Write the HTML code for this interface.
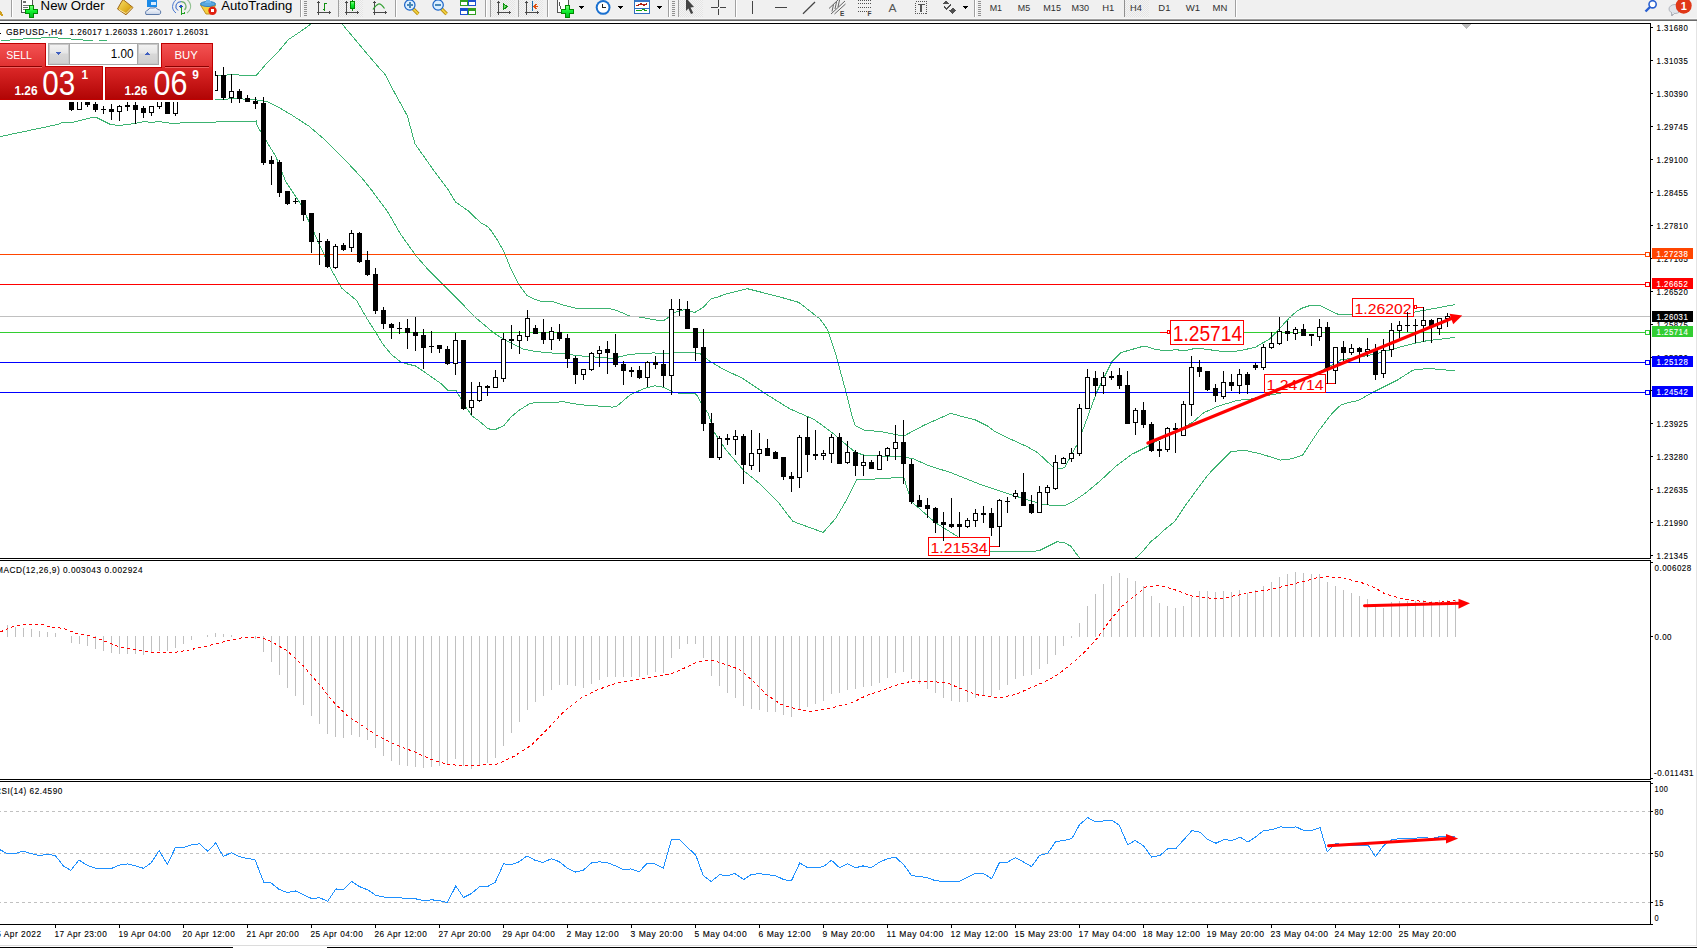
<!DOCTYPE html>
<html><head><meta charset="utf-8"><title>GBPUSD,H4</title>
<style>
html,body{margin:0;padding:0;width:1697px;height:948px;overflow:hidden;background:#fff}
svg{display:block}
text{font-family:"Liberation Sans",sans-serif;white-space:pre}
</style></head><body>
<svg width="1697" height="948" viewBox="0 0 1697 948" shape-rendering="crispEdges">
<rect x="0" y="0" width="1697" height="18" fill="#f0f0f0"/>
<rect x="0" y="18" width="1697" height="1" fill="#f7f7f7"/>
<rect x="0" y="19" width="1697" height="1" fill="#a0a0a0"/>
<rect x="0" y="20" width="1697" height="1" fill="#6a6a6a"/>
<defs><linearGradient id="gplus" x1="0" y1="0" x2="0" y2="1"><stop offset="0" stop-color="#90ff90"/><stop offset="0.5" stop-color="#10f030"/><stop offset="1" stop-color="#00c020"/></linearGradient><linearGradient id="gbook" x1="0" y1="0" x2="1" y2="1"><stop offset="0" stop-color="#f8e070"/><stop offset="0.6" stop-color="#e0b020"/><stop offset="1" stop-color="#b07010"/></linearGradient><linearGradient id="gcloud" x1="0" y1="0" x2="0" y2="1"><stop offset="0" stop-color="#ffffff"/><stop offset="1" stop-color="#c8d4e8"/></linearGradient><pattern id="chk" width="2" height="2" patternUnits="userSpaceOnUse"><rect width="2" height="2" fill="#f4f4f4"/><rect width="1" height="1" fill="#e4e4e4"/><rect x="1" y="1" width="1" height="1" fill="#e4e4e4"/></pattern></defs>
<rect x="11" y="0" width="1" height="17" fill="#a0a0a0"/>
<rect x="12" y="0" width="1" height="17" fill="#ffffff"/>
<path d="M-1,11.5 L2.8,15.8" stroke="#d0a020" stroke-width="2.6"/>
<path d="M21.5,-2.5 h8 l3,3 v12 h-11 z" fill="#fff" stroke="#555" stroke-width="1"/>
<rect x="23" y="1" width="3" height="1.5" fill="#707070"/><rect x="23" y="5" width="6" height="1" fill="#707070"/><rect x="23" y="7" width="5" height="1" fill="#707070"/><rect x="23" y="9" width="2" height="1" fill="#707070"/>
<path d="M29,5 h4 v4 h4 v4 h-4 v4 h-4 v-4 h-4 v-4 h4 z" fill="url(#gplus)" stroke="#008a00" stroke-width="1"/>
<text x="40.6" y="9.5" font-size="12" fill="#000" textLength="64" lengthAdjust="spacingAndGlyphs">New Order</text>
<path d="M123,-0.5 L133,7.5 L126,14.8 L117.5,9 Q120,4 123,-0.5 Z" fill="url(#gbook)" stroke="#a06818" stroke-width="1" shape-rendering="auto"/>
<path d="M119,9.5 L126,13.5 L132,7.5" stroke="#fff3c0" stroke-width="0.8" fill="none" shape-rendering="auto"/>
<rect x="147" y="-2" width="10" height="9" fill="#1a8ae8"/>
<rect x="151" y="2" width="5" height="3" fill="#d8ecff"/>
<path d="M146,14.5 Q144.5,11 148,10 Q149,7 153,8 Q156,6.5 158,9.5 Q161.5,10 160.5,13.5 Q160,14.5 158,14.5 Z" fill="url(#gcloud)" stroke="#5a78a8" stroke-width="1" shape-rendering="auto"/>
<g fill="none" shape-rendering="auto"><path d="M176,13 A8,8 0 0 1 181,-1.5" stroke="#4a78d0" stroke-width="1"/><path d="M178,10.5 A4.8,4.8 0 0 1 181,1.7" stroke="#2a60c8" stroke-width="1"/><path d="M181,-1.5 A8,8 0 0 1 187,13" stroke="#90c090" stroke-width="1.2"/><path d="M181,1.7 A4.8,4.8 0 0 1 184.5,10" stroke="#70b070" stroke-width="1.2"/></g>
<circle cx="181" cy="6.5" r="1.6" fill="#2050c0"/>
<path d="M181.5,7 V14.5 M181,14 L185,13" stroke="#20a020" stroke-width="1.4" fill="none"/>
<path d="M200.5,5 L215.5,5 L211,14 L206,14 Z" fill="#f4d040" stroke="#c09020" shape-rendering="auto"/>
<ellipse cx="208" cy="4" rx="7.5" ry="2.5" fill="#58a8e0" stroke="#3080c0" shape-rendering="auto"/>
<path d="M205,3 L207,-1 L210,-1 L211,3 Z" fill="#70b8f0"/>
<circle cx="212.5" cy="10.8" r="4.2" fill="#e02010" shape-rendering="auto"/>
<rect x="211" y="9.3" width="3" height="3" fill="#fff"/>
<text x="221.2" y="9.5" font-size="12" fill="#000" textLength="71.2" lengthAdjust="spacingAndGlyphs">AutoTrading</text>
<rect x="300" y="0" width="1" height="17" fill="#a0a0a0"/>
<rect x="301" y="0" width="1" height="17" fill="#ffffff"/>
<rect x="304" y="1" width="3" height="1" fill="#909090"/>
<rect x="304" y="3" width="3" height="1" fill="#909090"/>
<rect x="304" y="5" width="3" height="1" fill="#909090"/>
<rect x="304" y="7" width="3" height="1" fill="#909090"/>
<rect x="304" y="9" width="3" height="1" fill="#909090"/>
<rect x="304" y="11" width="3" height="1" fill="#909090"/>
<rect x="304" y="13" width="3" height="1" fill="#909090"/>
<rect x="304" y="15" width="3" height="1" fill="#909090"/>
<path d="M318.5,1.5 V15 M316.5,12.5 H329.5" stroke="#4a4a4a" stroke-width="1.2" fill="none"/>
<path d="M318.5,0.5 l-1.8,2.2 h3.6 z M331,12.5 l-2.2,-1.8 v3.6 z" fill="#4a4a4a"/>
<path d="M324.5,2.5 V10.5 M322.5,9.5 H324.5 M324.5,3.5 H326.5" stroke="#109010" stroke-width="1.2" fill="none"/>
<rect x="338" y="0" width="1" height="17" fill="#a0a0a0"/>
<rect x="339" y="0" width="1" height="17" fill="#ffffff"/>
<rect x="339" y="0" width="24" height="17" fill="url(#chk)"/>
<path d="M346.5,1.5 V15 M344.5,12.5 H357.5" stroke="#4a4a4a" stroke-width="1.2" fill="none"/>
<path d="M346.5,0.5 l-1.8,2.2 h3.6 z M359,12.5 l-2.2,-1.8 v3.6 z" fill="#4a4a4a"/>
<path d="M352.5,-1 V11" stroke="#108010" stroke-width="1.2"/>
<rect x="350.5" y="1.5" width="4" height="7" fill="url(#gplus)" stroke="#008a00"/>
<path d="M374.5,1.5 V15 M372.5,12.5 H385.5" stroke="#4a4a4a" stroke-width="1.2" fill="none"/>
<path d="M374.5,0.5 l-1.8,2.2 h3.6 z M387,12.5 l-2.2,-1.8 v3.6 z" fill="#4a4a4a"/>
<path d="M373,9.5 Q376,5 378.5,4 Q381,3.5 384.5,8.5" stroke="#30a030" stroke-width="1.2" fill="none" shape-rendering="auto"/>
<rect x="395" y="0" width="1" height="17" fill="#a0a0a0"/>
<rect x="396" y="0" width="1" height="17" fill="#ffffff"/>
<path d="M413.3,9 L418.3,14" stroke="#b08000" stroke-width="3.4" shape-rendering="auto"/>
<path d="M413.3,9 L418.3,14" stroke="#f0d040" stroke-width="1.8" shape-rendering="auto"/>
<circle cx="409.8" cy="5" r="5.2" fill="#dcefff" stroke="#1a64c8" stroke-width="1.2" shape-rendering="auto"/>
<path d="M406.8,5 h6" stroke="#4a88b8" stroke-width="2"/>
<path d="M409.8,2 v6" stroke="#4a88b8" stroke-width="2"/>
<path d="M441.6,9 L446.6,14" stroke="#b08000" stroke-width="3.4" shape-rendering="auto"/>
<path d="M441.6,9 L446.6,14" stroke="#f0d040" stroke-width="1.8" shape-rendering="auto"/>
<circle cx="438.1" cy="5" r="5.2" fill="#dcefff" stroke="#1a64c8" stroke-width="1.2" shape-rendering="auto"/>
<path d="M435.1,5 h6" stroke="#4a88b8" stroke-width="2"/>
<rect x="460" y="-1" width="7.5" height="7.2" fill="#30a020"/>
<rect x="461" y="2" width="5.5" height="3" fill="#fff"/>
<rect x="468" y="-1" width="7.5" height="7.2" fill="#1a50d0"/>
<rect x="469" y="2" width="5.5" height="3" fill="#fff"/>
<rect x="460" y="7.5" width="7.5" height="7.2" fill="#1a50d0"/>
<rect x="461" y="10.5" width="5.5" height="3" fill="#fff"/>
<rect x="468" y="7.5" width="7.5" height="7.2" fill="#30a020"/>
<rect x="469" y="10.5" width="5.5" height="3" fill="#fff"/>
<rect x="485" y="0" width="1" height="17" fill="#a0a0a0"/>
<rect x="486" y="0" width="1" height="17" fill="#ffffff"/>
<rect x="490" y="0" width="1" height="17" fill="#a0a0a0"/>
<rect x="491" y="0" width="1" height="17" fill="#ffffff"/>
<rect x="491" y="0" width="24" height="17" fill="url(#chk)"/>
<path d="M498.5,1.5 V15 M496.5,12.5 H509.5" stroke="#4a4a4a" stroke-width="1.2" fill="none"/>
<path d="M498.5,0.5 l-1.8,2.2 h3.6 z M511,12.5 l-2.2,-1.8 v3.6 z" fill="#4a4a4a"/>
<path d="M503.5,3.5 L507,6.5 L503.5,9.7 Z" fill="#70e070" stroke="#109010" stroke-width="1"/>
<rect x="518" y="0" width="1" height="17" fill="#a0a0a0"/>
<rect x="519" y="0" width="1" height="17" fill="#ffffff"/>
<rect x="519" y="0" width="24" height="17" fill="url(#chk)"/>
<path d="M526.5,1.5 V15 M524.5,12.5 H537.5" stroke="#4a4a4a" stroke-width="1.2" fill="none"/>
<path d="M526.5,0.5 l-1.8,2.2 h3.6 z M539,12.5 l-2.2,-1.8 v3.6 z" fill="#4a4a4a"/>
<path d="M532.5,1 V10.5" stroke="#1a6aa8" stroke-width="1.3"/>
<path d="M538,6.5 H534.5 M536.5,4.3 L533.8,6.5 L536.5,8.7" stroke="#e05010" stroke-width="1.5" fill="none"/>
<rect x="547" y="0" width="1" height="17" fill="#a0a0a0"/>
<rect x="548" y="0" width="1" height="17" fill="#ffffff"/>
<path d="M557.5,-2.5 h8 l3,3 v12 h-11 z" fill="#fff" stroke="#555" stroke-width="1"/>
<path d="M560,2 Q559,6 561,9" stroke="#555" fill="none"/>
<path d="M565,5 h4 v4 h4 v4 h-4 v4 h-4 v-4 h-4 v-4 h4 z" fill="url(#gplus)" stroke="#008a00" stroke-width="1"/>
<path d="M578.8,6 h5.5 l-2.75,3 z" fill="#000"/>
<circle cx="603.1" cy="7.4" r="7.4" fill="#1a70d0" shape-rendering="auto"/><circle cx="603.1" cy="7.4" r="5.4" fill="#fff" shape-rendering="auto"/>
<path d="M602.5,3.5 V7.5 H605.5" stroke="#222" stroke-width="1" fill="none"/>
<path d="M617.8,6 h5.5 l-2.75,3 z" fill="#000"/>
<rect x="634.5" y="-1.5" width="15" height="15" fill="#fff" stroke="#3070c0"/>
<rect x="635" y="-1" width="14" height="2.5" fill="#3878c8"/>
<path d="M635,8 H649" stroke="#3070c0"/>
<path d="M636,5.5 L638,5.5 L640,4 L642,4 L643.5,5 L645,5 L647,3.5" stroke="#b02010" stroke-width="1.2" fill="none"/>
<path d="M636,11 L638,10.5 L640,11 L642,10 L643,9 L645,10.5 L647,11" stroke="#10a010" stroke-width="1.2" fill="none"/>
<path d="M656.7,6 h5.5 l-2.75,3 z" fill="#000"/>
<rect x="668" y="0" width="1" height="17" fill="#a0a0a0"/>
<rect x="669" y="0" width="1" height="17" fill="#ffffff"/>
<rect x="672" y="1" width="3" height="1" fill="#909090"/>
<rect x="672" y="3" width="3" height="1" fill="#909090"/>
<rect x="672" y="5" width="3" height="1" fill="#909090"/>
<rect x="672" y="7" width="3" height="1" fill="#909090"/>
<rect x="672" y="9" width="3" height="1" fill="#909090"/>
<rect x="672" y="11" width="3" height="1" fill="#909090"/>
<rect x="672" y="13" width="3" height="1" fill="#909090"/>
<rect x="672" y="15" width="3" height="1" fill="#909090"/>
<rect x="678" y="0" width="1" height="17" fill="#a0a0a0"/>
<rect x="679" y="0" width="1" height="17" fill="#ffffff"/>
<rect x="679" y="0" width="24" height="17" fill="url(#chk)"/>
<path d="M686,-2 L694,7 L690.5,7.6 L693.2,13 L691,14 L688.4,8.6 L686,11 Z" fill="#444" shape-rendering="auto"/>
<path d="M718.5,0 V6.5 M718.5,8.5 V15 M711,7.5 H717.5 M719.5,7.5 H726" stroke="#444" stroke-width="1.2" fill="none"/>
<rect x="735" y="0" width="1" height="17" fill="#a0a0a0"/>
<rect x="736" y="0" width="1" height="17" fill="#ffffff"/>
<path d="M752.5,1 V14" stroke="#444" stroke-width="1.3" fill="none"/>
<path d="M775,7.5 H787" stroke="#444" stroke-width="1.3" fill="none"/>
<path d="M803,13.8 L815,2" stroke="#444" stroke-width="1.2" fill="none" shape-rendering="auto"/>
<g stroke="#555" fill="none" shape-rendering="auto" stroke-width="0.9"><path d="M829,8.5 L838,0 M831,14 L845,1 M834.5,14 L845.5,4"/><path d="M833.5,4.5 L832,11.5 M836.5,2 L835,9 M839.5,0 L838,7"/></g>
<text x="840" y="15.7" font-size="6.5" fill="#404040" font-weight="bold">E</text>
<path d="M858,0.5 h13 M858,3.5 h13 M858,7.5 h13 M858,11.5 h9" stroke="#505050" stroke-dasharray="1,1" fill="none"/>
<text x="867.6" y="15.7" font-size="6.5" fill="#404040" font-weight="bold">F</text>
<text x="888.5" y="11.7" font-size="11.5" fill="#555" textLength="8" lengthAdjust="spacingAndGlyphs">A</text>
<rect x="915.5" y="1.5" width="11" height="12" fill="none" stroke="#555" stroke-dasharray="1,1"/>
<path d="M917.5,4.5 H925 M921.2,4.5 V12" stroke="#555" stroke-width="1.6" fill="none"/>
<path d="M942,4 L945.5,0.5 L949,4 Z M949.5,10.5 L952.8,14 L956,10.5 L952.8,7.5 Z" fill="#505050"/>
<path d="M944.5,6.5 L946.5,9 L951,4.5" stroke="#505050" stroke-width="1.3" fill="none"/>
<path d="M962.8,6 h5.5 l-2.75,3 z" fill="#000"/>
<rect x="974" y="0" width="1" height="17" fill="#a0a0a0"/>
<rect x="975" y="0" width="1" height="17" fill="#ffffff"/>
<rect x="978" y="1" width="3" height="1" fill="#909090"/>
<rect x="978" y="3" width="3" height="1" fill="#909090"/>
<rect x="978" y="5" width="3" height="1" fill="#909090"/>
<rect x="978" y="7" width="3" height="1" fill="#909090"/>
<rect x="978" y="9" width="3" height="1" fill="#909090"/>
<rect x="978" y="11" width="3" height="1" fill="#909090"/>
<rect x="978" y="13" width="3" height="1" fill="#909090"/>
<rect x="978" y="15" width="3" height="1" fill="#909090"/>
<rect x="1125" y="0" width="24" height="17" fill="url(#chk)"/>
<rect x="1124" y="0" width="1" height="17" fill="#909090"/>
<text x="989.7" y="10.7" font-size="9.4" fill="#303030" textLength="12.4" lengthAdjust="spacingAndGlyphs">M1</text>
<text x="1017.8" y="10.7" font-size="9.4" fill="#303030" textLength="12.3" lengthAdjust="spacingAndGlyphs">M5</text>
<text x="1043.3" y="10.7" font-size="9.4" fill="#303030" textLength="17.7" lengthAdjust="spacingAndGlyphs">M15</text>
<text x="1071.4" y="10.7" font-size="9.4" fill="#303030" textLength="17.6" lengthAdjust="spacingAndGlyphs">M30</text>
<text x="1102.2" y="10.7" font-size="9.4" fill="#303030" textLength="12.1" lengthAdjust="spacingAndGlyphs">H1</text>
<text x="1130" y="10.7" font-size="9.4" fill="#303030" textLength="11.8" lengthAdjust="spacingAndGlyphs">H4</text>
<text x="1158.3" y="10.7" font-size="9.4" fill="#303030" textLength="12.1" lengthAdjust="spacingAndGlyphs">D1</text>
<text x="1185.7" y="10.7" font-size="9.4" fill="#303030" textLength="14.4" lengthAdjust="spacingAndGlyphs">W1</text>
<text x="1212.5" y="10.7" font-size="9.4" fill="#303030" textLength="14.8" lengthAdjust="spacingAndGlyphs">MN</text>
<rect x="1235" y="0" width="1" height="17" fill="#a0a0a0"/>
<rect x="1236" y="0" width="1" height="17" fill="#ffffff"/>
<circle cx="1652.6" cy="4.3" r="3.6" fill="#fff" stroke="#2a60d0" stroke-width="1.6" shape-rendering="auto"/>
<path d="M1650,7 L1645.5,11.5" stroke="#2a60d0" stroke-width="2.4" shape-rendering="auto"/>
<ellipse cx="1675" cy="9" rx="6" ry="4.5" fill="#e0e4ea" stroke="#b0b4bc" shape-rendering="auto"/>
<path d="M1671,12 L1672,15.5 L1675,13" fill="#e0e4ea" stroke="#b0b4bc"/>
<circle cx="1683.7" cy="5.7" r="8" fill="#e03818" shape-rendering="auto"/>
<text x="1683.7" y="9.5" font-size="11" fill="#fff" font-weight="bold" text-anchor="middle" font-family="Liberation Serif">1</text>
<rect x="0" y="21" width="1697" height="927" fill="#fff"/>
<rect x="1696" y="21" width="1" height="925" fill="#e4e4e4"/>
<rect x="0" y="945" width="1697" height="1" fill="#dcdcdc"/>
<rect x="0" y="946" width="1697" height="1" fill="#fff"/>
<rect x="0" y="947" width="233" height="1" fill="#000"/>
<rect x="327" y="947" width="1370" height="1" fill="#000"/>
<defs><clipPath id="cm"><rect x="0" y="24" width="1650" height="534"/></clipPath><clipPath id="cmacd"><rect x="0" y="561" width="1650" height="218"/></clipPath><clipPath id="crsi"><rect x="0" y="782" width="1650" height="142"/></clipPath></defs>
<g clip-path="url(#cm)" fill="none" stroke="#3cb371" stroke-width="1">
<polyline points="0.5,40.5 5.5,40.5 15.5,39.5 31.5,38.5 51.5,37.5 64.5,38.5 76.5,39.5 88.5,40.5 92.5,40.7 93.5,42.0 98.5,42.0 99.5,40.5 106.5,40.5 107.5,42.0 150.5,55.5 213.5,76.0 226.5,75.9 227.5,74.7 256.2,75.5 267.9,62.0 278.3,51.6 288.7,39.3 300.5,31.5 310.5,24.4 312.5,21.5 340.5,21.5 343.5,25.7 362.5,48.4 379.0,67.8 384.6,73.7 393.4,90.5 407.3,115.8 414.9,143.7 432.7,169.0 447.8,189.2 455.4,201.9 468.1,210.8 480.5,222.6 487.9,226.8 491.0,230.5 496.3,238.4 501.6,247.4 505.3,254.8 510.0,266.9 514.3,275.4 519.0,284.8 526.9,295.4 535.4,299.6 542.7,301.7 553.3,301.9 562.8,304.9 575.4,308.1 580.7,308.9 611.2,309.0 616.6,310.4 630.3,316.3 641.3,317.2 652.3,319.6 663.2,320.9 668.7,317.2 674.2,312.4 683.8,309.7 694.8,312.4 703.0,307.6 711.2,298.7 716.7,297.4 726.3,293.9 747.2,288.7 777.6,296.3 798.9,302.4 820.1,319.1 827.7,329.8 835.3,352.6 844.4,386.0 852.0,416.4 855.1,425.5 864.2,430.1 880.9,431.6 903.7,436.1 923.5,425.5 950.8,413.3 961.8,416.5 975.3,419.9 987.1,425.8 993.9,430.9 1009.1,438.5 1027.7,446.9 1037.8,452.8 1053.2,467.1 1058.2,469.0 1064.5,467.7 1077.2,444.3 1084.5,425.5 1096.7,392.1 1111.9,361.7 1121.0,352.6 1140.5,347.0 1147.4,346.7 1154.2,349.0 1165.2,350.8 1176.2,349.7 1184.4,350.8 1196.7,348.1 1209.1,349.7 1220.1,351.1 1232.4,351.8 1244.8,349.7 1255.7,347.0 1269.8,338.9 1275.2,333.4 1280.7,327.2 1289.0,318.3 1297.2,310.8 1302.5,308.0 1308.8,305.9 1320.5,305.9 1337.6,314.1 1341.8,314.8 1348.6,314.1 1361.1,314.6 1373.3,313.1 1388.5,314.6 1412.8,312.4 1434.0,308.5 1455.3,304.5"/>
<polyline points="200.5,99.8 227.5,99.8 228.5,98.6 236.5,98.6 254.9,99.7 266.9,101.5 275.7,105.7 290.9,114.5 308.6,125.9 326.3,141.1 344.0,158.9 361.8,177.8 371.9,190.5 387.1,210.8 400.5,234.0 415.3,254.9 428.3,269.9 443.4,284.8 451.5,293.1 458.5,300.1 463.1,304.7 474.7,316.9 481.7,322.7 493.3,332.6 500.5,337.2 508.9,342.0 522.8,349.0 535.4,351.5 549.4,352.8 564.6,354.0 580.5,355.9 612.5,358.4 630.3,354.3 653.6,352.9 667.4,353.9 675.6,352.2 692.0,352.2 700.3,353.9 708.5,360.4 722.2,368.7 742.5,378.3 765.4,393.6 789.7,408.8 814.1,419.4 832.0,432.5 843.8,442.7 854.0,451.1 862.4,454.9 879.3,455.9 904.6,457.1 913.0,458.7 920.4,462.0 928.2,465.5 950.8,472.6 981.2,484.8 1008.5,493.9 1032.9,501.5 1040.5,503.8 1053.2,505.7 1064.5,505.7 1073.4,501.3 1084.8,493.7 1100.0,481.0 1116.4,465.8 1131.6,454.4 1148.1,446.2 1154.2,442.3 1174.8,432.0 1192.6,422.4 1203.6,412.8 1217.3,406.6 1236.5,400.5 1250.2,399.1 1266.7,395.7 1281.8,392.9 1298.2,386.1 1314.7,374.4 1329.8,366.2 1340.5,360.0 1358.2,357.3 1378.8,353.2 1392.5,349.1 1413.1,343.6 1426.5,340.8 1455.3,337.4"/>
<polyline points="0.5,136.5 57.5,124.5 62.5,122.5 72.5,122.5 91.5,117.5 96.5,117.5 110.5,124.5 119.5,125.5 127.5,124.5 134.5,123.5 139.5,122.5 144.5,121.5 151.5,122.5 158.5,121.5 164.5,122.5 172.5,123.5 187.5,122.5 195.5,122.5 256.2,121.0 257.1,125.4 265.6,139.9 275.7,156.3 285.8,181.6 301.0,204.4 316.2,237.3 328.9,265.2 341.5,288.0 356.7,300.6 366.5,317.9 374.5,330.5 383.4,344.9 391.5,354.5 400.3,361.8 405.5,363.5 415.5,366.0 425.6,372.8 440.5,383.2 448.1,390.8 456.3,390.8 461.4,399.6 466.4,407.8 472.1,416.1 478.5,420.5 488.0,428.7 494.3,430.0 503.8,425.6 511.4,416.7 519.0,410.4 529.1,404.0 534.2,402.8 554.4,402.8 562.0,401.5 579.7,404.7 612.5,407.1 616.6,406.4 630.3,394.7 644.0,388.6 655.0,385.8 663.2,387.2 672.8,392.0 681.1,393.6 694.8,393.1 697.5,396.1 701.6,404.3 708.5,413.9 713.8,431.6 725.9,449.8 744.1,471.1 759.3,483.3 777.6,501.5 792.8,521.3 823.2,532.5 835.4,518.7 845.5,501.8 852.3,488.3 856.5,479.9 880.9,478.7 903.7,477.2 911.3,501.5 935.6,522.8 959.9,538.0 990.3,551.6 1032.9,551.6 1040.5,550.0 1048.1,546.2 1057.0,541.8 1064.5,542.8 1070.9,546.2 1075.9,553.2 1079.7,558.2 1081.5,560.5 1133.5,560.5 1135.4,558.2 1141.8,552.5 1150.6,541.8 1157.0,536.7 1164.6,529.7 1174.7,521.5 1184.8,506.3 1194.9,492.4 1207.6,475.3 1217.7,464.6 1230.4,451.9 1240.5,450.6 1247.5,450.9 1261.2,454.0 1280.4,460.1 1291.4,458.8 1302.4,455.3 1318.8,430.6 1332.5,412.8 1340.5,405.3 1348.6,402.5 1358.1,400.6 1373.3,392.1 1397.6,379.9 1412.8,370.2 1428.0,368.4 1455.3,370.8"/>
</g>
<rect x="0" y="316" width="1650" height="1" fill="#c0c0c0"/>
<rect x="0" y="254" width="1645" height="1" fill="#ff4500"/>
<rect x="1645.5" y="252.5" width="4" height="4" fill="#fff" stroke="#ff4500"/>
<rect x="0" y="284" width="1645" height="1" fill="#ff0000"/>
<rect x="1645.5" y="282.5" width="4" height="4" fill="#fff" stroke="#ff0000"/>
<rect x="0" y="332" width="1645" height="1" fill="#32cd32"/>
<rect x="1645.5" y="330.5" width="4" height="4" fill="#fff" stroke="#32cd32"/>
<rect x="0" y="362" width="1645" height="1" fill="#0000ff"/>
<rect x="1645.5" y="360.5" width="4" height="4" fill="#fff" stroke="#0000ff"/>
<rect x="0" y="392" width="1645" height="1" fill="#0000ff"/>
<rect x="1645.5" y="390.5" width="4" height="4" fill="#fff" stroke="#0000ff"/>
<rect x="928.5" y="537.5" width="61" height="18" fill="#fff" stroke="#ff0000"/>
<text x="930.5" y="552.8" font-size="15.5" fill="#ff0000" textLength="57" lengthAdjust="spacingAndGlyphs">1.21534</text>
<rect x="989" y="546" width="10" height="1" fill="#ff0000"/>
<rect x="1170.5" y="320.5" width="73" height="24" fill="#fff" stroke="#ff0000"/>
<text x="1172.7" y="341" font-size="22" fill="#ff0000" textLength="69.5" lengthAdjust="spacingAndGlyphs">1.25714</text>
<rect x="1160" y="332" width="7" height="1" fill="#ff0000"/>
<rect x="1167.5" y="330.5" width="2" height="3" fill="#fff" stroke="#ff0000"/>
<rect x="1264.5" y="374.5" width="61" height="18" fill="#fff" stroke="#ff0000"/>
<text x="1266.5" y="389.5" font-size="15.5" fill="#ff0000" textLength="57" lengthAdjust="spacingAndGlyphs">1.24714</text>
<rect x="1325" y="383" width="11" height="1" fill="#ff0000"/>
<rect x="1352.5" y="298.5" width="61" height="18" fill="#fff" stroke="#ff0000"/>
<text x="1354.5" y="313.6" font-size="15.5" fill="#ff0000" textLength="57" lengthAdjust="spacingAndGlyphs">1.26202</text>
<rect x="1414.5" y="305.5" width="2" height="3" fill="#fff" stroke="#ff0000"/>
<rect x="1417" y="307" width="7" height="1" fill="#ff0000"/>
<g clip-path="url(#cm)">
<rect x="71" y="95" width="1" height="16" fill="#000"/>
<rect x="69" y="95" width="5" height="15" fill="#000"/>
<rect x="79" y="95" width="1" height="15" fill="#000"/>
<rect x="77.5" y="95.5" width="4" height="14" fill="#fff" stroke="#000"/>
<rect x="87" y="95" width="1" height="12" fill="#000"/>
<rect x="85" y="95" width="5" height="10" fill="#000"/>
<rect x="95" y="95" width="1" height="17" fill="#000"/>
<rect x="93" y="104" width="5" height="6" fill="#000"/>
<rect x="103" y="106" width="1" height="8" fill="#000"/>
<rect x="101" y="109" width="5" height="1" fill="#000"/>
<rect x="111" y="104" width="1" height="16" fill="#000"/>
<rect x="109" y="109" width="5" height="3" fill="#000"/>
<rect x="119" y="105" width="1" height="16" fill="#000"/>
<rect x="117.5" y="106.5" width="4" height="5" fill="#fff" stroke="#000"/>
<rect x="127" y="102" width="1" height="9" fill="#000"/>
<rect x="125" y="105" width="5" height="2" fill="#000"/>
<rect x="135" y="95" width="1" height="29" fill="#000"/>
<rect x="133" y="105" width="5" height="5" fill="#000"/>
<rect x="143" y="106" width="1" height="12" fill="#000"/>
<rect x="141" y="108" width="5" height="5" fill="#000"/>
<rect x="151" y="106" width="1" height="10" fill="#000"/>
<rect x="149.5" y="106.5" width="4" height="6" fill="#fff" stroke="#000"/>
<rect x="159" y="95" width="1" height="14" fill="#000"/>
<rect x="157.5" y="95.5" width="4" height="11" fill="#fff" stroke="#000"/>
<rect x="167" y="95" width="1" height="19" fill="#000"/>
<rect x="165" y="95" width="5" height="19" fill="#000"/>
<rect x="175" y="95" width="1" height="21" fill="#000"/>
<rect x="173.5" y="95.5" width="4" height="18" fill="#fff" stroke="#000"/>
<rect x="215" y="71" width="1" height="20" fill="#000"/>
<rect x="213.5" y="75.5" width="4" height="15" fill="#fff" stroke="#000"/>
<rect x="223" y="67" width="1" height="33" fill="#000"/>
<rect x="221" y="75" width="5" height="23" fill="#000"/>
<rect x="231" y="74" width="1" height="29" fill="#000"/>
<rect x="229.5" y="91.5" width="4" height="6" fill="#fff" stroke="#000"/>
<rect x="239" y="89" width="1" height="14" fill="#000"/>
<rect x="237" y="91" width="5" height="8" fill="#000"/>
<rect x="247" y="95" width="1" height="7" fill="#000"/>
<rect x="245" y="98" width="5" height="4" fill="#000"/>
<rect x="255" y="97" width="1" height="12" fill="#000"/>
<rect x="253" y="101" width="5" height="3" fill="#000"/>
<rect x="263" y="97" width="1" height="68" fill="#000"/>
<rect x="261" y="103" width="5" height="60" fill="#000"/>
<rect x="271" y="156" width="1" height="29" fill="#000"/>
<rect x="269" y="160" width="5" height="4" fill="#000"/>
<rect x="279" y="160" width="1" height="37" fill="#000"/>
<rect x="277" y="162" width="5" height="31" fill="#000"/>
<rect x="287" y="191" width="1" height="14" fill="#000"/>
<rect x="285" y="191" width="5" height="13" fill="#000"/>
<rect x="295" y="198" width="1" height="6" fill="#000"/>
<rect x="293" y="201" width="5" height="1" fill="#000"/>
<rect x="303" y="200" width="1" height="21" fill="#000"/>
<rect x="301" y="200" width="5" height="15" fill="#000"/>
<rect x="311" y="213" width="1" height="40" fill="#000"/>
<rect x="309" y="213" width="5" height="29" fill="#000"/>
<rect x="319" y="233" width="1" height="32" fill="#000"/>
<rect x="317" y="241" width="5" height="1" fill="#000"/>
<rect x="327" y="239" width="1" height="29" fill="#000"/>
<rect x="325" y="241" width="5" height="26" fill="#000"/>
<rect x="335" y="244" width="1" height="25" fill="#000"/>
<rect x="333.5" y="246.5" width="4" height="21" fill="#fff" stroke="#000"/>
<rect x="343" y="243" width="1" height="8" fill="#000"/>
<rect x="341" y="245" width="5" height="5" fill="#000"/>
<rect x="351" y="230" width="1" height="22" fill="#000"/>
<rect x="349.5" y="233.5" width="4" height="14" fill="#fff" stroke="#000"/>
<rect x="359" y="232" width="1" height="31" fill="#000"/>
<rect x="357" y="233" width="5" height="29" fill="#000"/>
<rect x="367" y="251" width="1" height="25" fill="#000"/>
<rect x="365" y="260" width="5" height="15" fill="#000"/>
<rect x="375" y="268" width="1" height="46" fill="#000"/>
<rect x="373" y="274" width="5" height="37" fill="#000"/>
<rect x="383" y="307" width="1" height="22" fill="#000"/>
<rect x="381" y="310" width="5" height="14" fill="#000"/>
<rect x="391" y="323" width="1" height="16" fill="#000"/>
<rect x="389" y="324" width="5" height="4" fill="#000"/>
<rect x="399" y="322" width="1" height="12" fill="#000"/>
<rect x="397" y="328" width="5" height="1" fill="#000"/>
<rect x="407" y="319" width="1" height="30" fill="#000"/>
<rect x="405" y="328" width="5" height="5" fill="#000"/>
<rect x="415" y="317" width="1" height="34" fill="#000"/>
<rect x="413" y="332" width="5" height="4" fill="#000"/>
<rect x="423" y="329" width="1" height="40" fill="#000"/>
<rect x="421" y="335" width="5" height="13" fill="#000"/>
<rect x="431" y="331" width="1" height="22" fill="#000"/>
<rect x="429" y="346" width="5" height="1" fill="#000"/>
<rect x="439" y="345" width="1" height="8" fill="#000"/>
<rect x="437" y="345" width="5" height="4" fill="#000"/>
<rect x="447" y="346" width="1" height="19" fill="#000"/>
<rect x="445" y="349" width="5" height="15" fill="#000"/>
<rect x="455" y="333" width="1" height="42" fill="#000"/>
<rect x="453.5" y="340.5" width="4" height="23" fill="#fff" stroke="#000"/>
<rect x="463" y="340" width="1" height="70" fill="#000"/>
<rect x="461" y="340" width="5" height="69" fill="#000"/>
<rect x="471" y="382" width="1" height="33" fill="#000"/>
<rect x="469.5" y="400.5" width="4" height="7" fill="#fff" stroke="#000"/>
<rect x="479" y="382" width="1" height="20" fill="#000"/>
<rect x="477.5" y="386.5" width="4" height="14" fill="#fff" stroke="#000"/>
<rect x="487" y="385" width="1" height="11" fill="#000"/>
<rect x="485" y="386" width="5" height="2" fill="#000"/>
<rect x="495" y="370" width="1" height="18" fill="#000"/>
<rect x="493.5" y="377.5" width="4" height="10" fill="#fff" stroke="#000"/>
<rect x="503" y="333" width="1" height="49" fill="#000"/>
<rect x="501.5" y="339.5" width="4" height="39" fill="#fff" stroke="#000"/>
<rect x="511" y="325" width="1" height="24" fill="#000"/>
<rect x="509" y="339" width="5" height="2" fill="#000"/>
<rect x="519" y="331" width="1" height="23" fill="#000"/>
<rect x="517.5" y="335.5" width="4" height="5" fill="#fff" stroke="#000"/>
<rect x="527" y="310" width="1" height="31" fill="#000"/>
<rect x="525.5" y="318.5" width="4" height="18" fill="#fff" stroke="#000"/>
<rect x="535" y="325" width="1" height="9" fill="#000"/>
<rect x="533" y="328" width="5" height="6" fill="#000"/>
<rect x="543" y="319" width="1" height="25" fill="#000"/>
<rect x="541" y="332" width="5" height="8" fill="#000"/>
<rect x="551" y="327" width="1" height="23" fill="#000"/>
<rect x="549.5" y="331.5" width="4" height="8" fill="#fff" stroke="#000"/>
<rect x="559" y="324" width="1" height="17" fill="#000"/>
<rect x="557" y="332" width="5" height="7" fill="#000"/>
<rect x="567" y="334" width="1" height="34" fill="#000"/>
<rect x="565" y="338" width="5" height="21" fill="#000"/>
<rect x="575" y="356" width="1" height="28" fill="#000"/>
<rect x="573" y="358" width="5" height="17" fill="#000"/>
<rect x="583" y="369" width="1" height="11" fill="#000"/>
<rect x="581.5" y="369.5" width="4" height="5" fill="#fff" stroke="#000"/>
<rect x="591" y="352" width="1" height="19" fill="#000"/>
<rect x="589.5" y="353.5" width="4" height="16" fill="#fff" stroke="#000"/>
<rect x="599" y="346" width="1" height="21" fill="#000"/>
<rect x="597.5" y="350.5" width="4" height="3" fill="#fff" stroke="#000"/>
<rect x="607" y="341" width="1" height="33" fill="#000"/>
<rect x="605" y="349" width="5" height="4" fill="#000"/>
<rect x="615" y="334" width="1" height="33" fill="#000"/>
<rect x="613" y="353" width="5" height="12" fill="#000"/>
<rect x="623" y="361" width="1" height="24" fill="#000"/>
<rect x="621" y="364" width="5" height="7" fill="#000"/>
<rect x="631" y="367" width="1" height="10" fill="#000"/>
<rect x="629" y="370" width="5" height="2" fill="#000"/>
<rect x="639" y="366" width="1" height="13" fill="#000"/>
<rect x="637" y="370" width="5" height="8" fill="#000"/>
<rect x="647" y="361" width="1" height="26" fill="#000"/>
<rect x="645.5" y="362.5" width="4" height="15" fill="#fff" stroke="#000"/>
<rect x="655" y="356" width="1" height="13" fill="#000"/>
<rect x="653" y="362" width="5" height="3" fill="#000"/>
<rect x="663" y="350" width="1" height="37" fill="#000"/>
<rect x="661" y="364" width="5" height="12" fill="#000"/>
<rect x="671" y="299" width="1" height="96" fill="#000"/>
<rect x="669.5" y="309.5" width="4" height="66" fill="#fff" stroke="#000"/>
<rect x="679" y="299" width="1" height="17" fill="#000"/>
<rect x="677" y="309" width="5" height="1" fill="#000"/>
<rect x="687" y="301" width="1" height="28" fill="#000"/>
<rect x="685" y="309" width="5" height="20" fill="#000"/>
<rect x="695" y="328" width="1" height="33" fill="#000"/>
<rect x="693" y="328" width="5" height="20" fill="#000"/>
<rect x="703" y="329" width="1" height="102" fill="#000"/>
<rect x="701" y="347" width="5" height="77" fill="#000"/>
<rect x="711" y="413" width="1" height="45" fill="#000"/>
<rect x="709" y="423" width="5" height="35" fill="#000"/>
<rect x="719" y="436" width="1" height="24" fill="#000"/>
<rect x="717.5" y="438.5" width="4" height="19" fill="#fff" stroke="#000"/>
<rect x="727" y="434" width="1" height="11" fill="#000"/>
<rect x="725" y="438" width="5" height="2" fill="#000"/>
<rect x="735" y="430" width="1" height="25" fill="#000"/>
<rect x="733.5" y="436.5" width="4" height="3" fill="#fff" stroke="#000"/>
<rect x="743" y="434" width="1" height="50" fill="#000"/>
<rect x="741" y="436" width="5" height="29" fill="#000"/>
<rect x="751" y="430" width="1" height="40" fill="#000"/>
<rect x="749.5" y="453.5" width="4" height="12" fill="#fff" stroke="#000"/>
<rect x="759" y="433" width="1" height="39" fill="#000"/>
<rect x="757.5" y="449.5" width="4" height="4" fill="#fff" stroke="#000"/>
<rect x="767" y="439" width="1" height="17" fill="#000"/>
<rect x="765" y="448" width="5" height="8" fill="#000"/>
<rect x="775" y="451" width="1" height="8" fill="#000"/>
<rect x="773" y="452" width="5" height="7" fill="#000"/>
<rect x="783" y="457" width="1" height="23" fill="#000"/>
<rect x="781" y="457" width="5" height="20" fill="#000"/>
<rect x="791" y="472" width="1" height="20" fill="#000"/>
<rect x="789" y="476" width="5" height="3" fill="#000"/>
<rect x="799" y="435" width="1" height="53" fill="#000"/>
<rect x="797.5" y="437.5" width="4" height="40" fill="#fff" stroke="#000"/>
<rect x="807" y="417" width="1" height="55" fill="#000"/>
<rect x="805" y="437" width="5" height="18" fill="#000"/>
<rect x="815" y="430" width="1" height="30" fill="#000"/>
<rect x="813" y="454" width="5" height="2" fill="#000"/>
<rect x="823" y="450" width="1" height="10" fill="#000"/>
<rect x="821.5" y="453.5" width="4" height="2" fill="#fff" stroke="#000"/>
<rect x="831" y="434" width="1" height="29" fill="#000"/>
<rect x="829.5" y="437.5" width="4" height="16" fill="#fff" stroke="#000"/>
<rect x="839" y="433" width="1" height="31" fill="#000"/>
<rect x="837" y="437" width="5" height="27" fill="#000"/>
<rect x="847" y="441" width="1" height="23" fill="#000"/>
<rect x="845.5" y="452.5" width="4" height="10" fill="#fff" stroke="#000"/>
<rect x="855" y="450" width="1" height="26" fill="#000"/>
<rect x="853" y="452" width="5" height="14" fill="#000"/>
<rect x="863" y="455" width="1" height="21" fill="#000"/>
<rect x="861.5" y="462.5" width="4" height="3" fill="#fff" stroke="#000"/>
<rect x="871" y="460" width="1" height="9" fill="#000"/>
<rect x="869" y="462" width="5" height="7" fill="#000"/>
<rect x="879" y="451" width="1" height="19" fill="#000"/>
<rect x="877.5" y="455.5" width="4" height="14" fill="#fff" stroke="#000"/>
<rect x="887" y="447" width="1" height="14" fill="#000"/>
<rect x="885.5" y="448.5" width="4" height="7" fill="#fff" stroke="#000"/>
<rect x="895" y="425" width="1" height="35" fill="#000"/>
<rect x="893.5" y="442.5" width="4" height="6" fill="#fff" stroke="#000"/>
<rect x="903" y="420" width="1" height="64" fill="#000"/>
<rect x="901" y="442" width="5" height="22" fill="#000"/>
<rect x="911" y="459" width="1" height="45" fill="#000"/>
<rect x="909" y="464" width="5" height="38" fill="#000"/>
<rect x="919" y="495" width="1" height="12" fill="#000"/>
<rect x="917" y="500" width="5" height="7" fill="#000"/>
<rect x="927" y="498" width="1" height="20" fill="#000"/>
<rect x="925" y="505" width="5" height="4" fill="#000"/>
<rect x="935" y="507" width="1" height="26" fill="#000"/>
<rect x="933" y="508" width="5" height="15" fill="#000"/>
<rect x="943" y="512" width="1" height="29" fill="#000"/>
<rect x="941" y="522" width="5" height="3" fill="#000"/>
<rect x="951" y="498" width="1" height="30" fill="#000"/>
<rect x="949" y="524" width="5" height="3" fill="#000"/>
<rect x="959" y="512" width="1" height="25" fill="#000"/>
<rect x="957" y="524" width="5" height="3" fill="#000"/>
<rect x="967" y="518" width="1" height="10" fill="#000"/>
<rect x="965.5" y="520.5" width="4" height="6" fill="#fff" stroke="#000"/>
<rect x="975" y="509" width="1" height="18" fill="#000"/>
<rect x="973.5" y="513.5" width="4" height="7" fill="#fff" stroke="#000"/>
<rect x="983" y="506" width="1" height="17" fill="#000"/>
<rect x="981" y="513" width="5" height="2" fill="#000"/>
<rect x="991" y="508" width="1" height="28" fill="#000"/>
<rect x="989" y="513" width="5" height="15" fill="#000"/>
<rect x="999" y="499" width="1" height="48" fill="#000"/>
<rect x="997.5" y="500.5" width="4" height="26" fill="#fff" stroke="#000"/>
<rect x="1007" y="497" width="1" height="16" fill="#000"/>
<rect x="1005" y="501" width="5" height="1" fill="#000"/>
<rect x="1015" y="490" width="1" height="9" fill="#000"/>
<rect x="1013.5" y="493.5" width="4" height="3" fill="#fff" stroke="#000"/>
<rect x="1023" y="473" width="1" height="33" fill="#000"/>
<rect x="1021" y="492" width="5" height="14" fill="#000"/>
<rect x="1031" y="495" width="1" height="19" fill="#000"/>
<rect x="1029" y="504" width="5" height="9" fill="#000"/>
<rect x="1039" y="486" width="1" height="27" fill="#000"/>
<rect x="1037.5" y="492.5" width="4" height="20" fill="#fff" stroke="#000"/>
<rect x="1047" y="485" width="1" height="20" fill="#000"/>
<rect x="1045.5" y="487.5" width="4" height="5" fill="#fff" stroke="#000"/>
<rect x="1055" y="455" width="1" height="35" fill="#000"/>
<rect x="1053.5" y="462.5" width="4" height="26" fill="#fff" stroke="#000"/>
<rect x="1063" y="457" width="1" height="7" fill="#000"/>
<rect x="1061.5" y="458.5" width="4" height="5" fill="#fff" stroke="#000"/>
<rect x="1071" y="448" width="1" height="14" fill="#000"/>
<rect x="1069.5" y="453.5" width="4" height="5" fill="#fff" stroke="#000"/>
<rect x="1079" y="404" width="1" height="52" fill="#000"/>
<rect x="1077.5" y="408.5" width="4" height="45" fill="#fff" stroke="#000"/>
<rect x="1087" y="369" width="1" height="40" fill="#000"/>
<rect x="1085.5" y="377.5" width="4" height="31" fill="#fff" stroke="#000"/>
<rect x="1095" y="371" width="1" height="25" fill="#000"/>
<rect x="1093" y="378" width="5" height="8" fill="#000"/>
<rect x="1103" y="372" width="1" height="22" fill="#000"/>
<rect x="1101.5" y="377.5" width="4" height="8" fill="#fff" stroke="#000"/>
<rect x="1111" y="371" width="1" height="9" fill="#000"/>
<rect x="1109" y="376" width="5" height="2" fill="#000"/>
<rect x="1119" y="368" width="1" height="21" fill="#000"/>
<rect x="1117" y="375" width="5" height="11" fill="#000"/>
<rect x="1127" y="371" width="1" height="53" fill="#000"/>
<rect x="1125" y="385" width="5" height="39" fill="#000"/>
<rect x="1135" y="408" width="1" height="27" fill="#000"/>
<rect x="1133.5" y="410.5" width="4" height="12" fill="#fff" stroke="#000"/>
<rect x="1143" y="402" width="1" height="26" fill="#000"/>
<rect x="1141" y="410" width="5" height="15" fill="#000"/>
<rect x="1151" y="422" width="1" height="30" fill="#000"/>
<rect x="1149" y="424" width="5" height="27" fill="#000"/>
<rect x="1159" y="441" width="1" height="16" fill="#000"/>
<rect x="1157" y="449" width="5" height="2" fill="#000"/>
<rect x="1167" y="427" width="1" height="25" fill="#000"/>
<rect x="1165.5" y="428.5" width="4" height="21" fill="#fff" stroke="#000"/>
<rect x="1175" y="423" width="1" height="30" fill="#000"/>
<rect x="1173" y="428" width="5" height="2" fill="#000"/>
<rect x="1183" y="401" width="1" height="35" fill="#000"/>
<rect x="1181.5" y="404.5" width="4" height="31" fill="#fff" stroke="#000"/>
<rect x="1191" y="356" width="1" height="60" fill="#000"/>
<rect x="1189.5" y="367.5" width="4" height="37" fill="#fff" stroke="#000"/>
<rect x="1199" y="360" width="1" height="17" fill="#000"/>
<rect x="1197" y="367" width="5" height="5" fill="#000"/>
<rect x="1207" y="371" width="1" height="20" fill="#000"/>
<rect x="1205" y="371" width="5" height="19" fill="#000"/>
<rect x="1215" y="384" width="1" height="18" fill="#000"/>
<rect x="1213" y="388" width="5" height="8" fill="#000"/>
<rect x="1223" y="371" width="1" height="28" fill="#000"/>
<rect x="1221.5" y="382.5" width="4" height="14" fill="#fff" stroke="#000"/>
<rect x="1231" y="374" width="1" height="17" fill="#000"/>
<rect x="1229" y="382" width="5" height="4" fill="#000"/>
<rect x="1239" y="369" width="1" height="25" fill="#000"/>
<rect x="1237.5" y="374.5" width="4" height="11" fill="#fff" stroke="#000"/>
<rect x="1247" y="372" width="1" height="22" fill="#000"/>
<rect x="1245" y="374" width="5" height="11" fill="#000"/>
<rect x="1255" y="363" width="1" height="7" fill="#000"/>
<rect x="1253" y="365" width="5" height="3" fill="#000"/>
<rect x="1263" y="344" width="1" height="26" fill="#000"/>
<rect x="1261.5" y="347.5" width="4" height="20" fill="#fff" stroke="#000"/>
<rect x="1271" y="332" width="1" height="17" fill="#000"/>
<rect x="1269.5" y="343.5" width="4" height="4" fill="#fff" stroke="#000"/>
<rect x="1279" y="317" width="1" height="28" fill="#000"/>
<rect x="1277.5" y="331.5" width="4" height="12" fill="#fff" stroke="#000"/>
<rect x="1287" y="321" width="1" height="20" fill="#000"/>
<rect x="1285" y="331" width="5" height="3" fill="#000"/>
<rect x="1295" y="327" width="1" height="13" fill="#000"/>
<rect x="1293.5" y="329.5" width="4" height="4" fill="#fff" stroke="#000"/>
<rect x="1303" y="324" width="1" height="12" fill="#000"/>
<rect x="1301" y="329" width="5" height="7" fill="#000"/>
<rect x="1311" y="334" width="1" height="12" fill="#000"/>
<rect x="1309" y="334" width="5" height="2" fill="#000"/>
<rect x="1319" y="319" width="1" height="22" fill="#000"/>
<rect x="1317.5" y="327.5" width="4" height="9" fill="#fff" stroke="#000"/>
<rect x="1327" y="322" width="1" height="62" fill="#000"/>
<rect x="1325" y="327" width="5" height="41" fill="#000"/>
<rect x="1335" y="347" width="1" height="37" fill="#000"/>
<rect x="1333.5" y="347.5" width="4" height="23" fill="#fff" stroke="#000"/>
<rect x="1343" y="341" width="1" height="20" fill="#000"/>
<rect x="1341" y="347" width="5" height="6" fill="#000"/>
<rect x="1351" y="344" width="1" height="11" fill="#000"/>
<rect x="1349.5" y="348.5" width="4" height="4" fill="#fff" stroke="#000"/>
<rect x="1359" y="347" width="1" height="16" fill="#000"/>
<rect x="1357" y="348" width="5" height="4" fill="#000"/>
<rect x="1367" y="338" width="1" height="19" fill="#000"/>
<rect x="1365.5" y="349.5" width="4" height="2" fill="#fff" stroke="#000"/>
<rect x="1375" y="344" width="1" height="36" fill="#000"/>
<rect x="1373" y="350" width="5" height="25" fill="#000"/>
<rect x="1383" y="339" width="1" height="39" fill="#000"/>
<rect x="1381.5" y="350.5" width="4" height="23" fill="#fff" stroke="#000"/>
<rect x="1391" y="323" width="1" height="34" fill="#000"/>
<rect x="1389.5" y="330.5" width="4" height="19" fill="#fff" stroke="#000"/>
<rect x="1399" y="321" width="1" height="17" fill="#000"/>
<rect x="1397.5" y="325.5" width="4" height="5" fill="#fff" stroke="#000"/>
<rect x="1407" y="312" width="1" height="20" fill="#000"/>
<rect x="1405" y="325" width="5" height="1" fill="#000"/>
<rect x="1415" y="319" width="1" height="24" fill="#000"/>
<rect x="1413" y="325" width="5" height="1" fill="#000"/>
<rect x="1423" y="307" width="1" height="35" fill="#000"/>
<rect x="1421.5" y="320.5" width="4" height="5" fill="#fff" stroke="#000"/>
<rect x="1431" y="319" width="1" height="24" fill="#000"/>
<rect x="1429" y="320" width="5" height="7" fill="#000"/>
<rect x="1439" y="318" width="1" height="17" fill="#000"/>
<rect x="1437.5" y="318.5" width="4" height="10" fill="#fff" stroke="#000"/>
<rect x="1447" y="313" width="1" height="14" fill="#000"/>
<rect x="1445.5" y="316.5" width="4" height="2" fill="#fff" stroke="#000"/>
<rect x="1455" y="315" width="1" height="3" fill="#000"/>
<rect x="1453" y="316" width="5" height="1" fill="#000"/>
</g>
<g fill="#c0c0c0">
<rect x="7" y="625" width="1" height="12"/>
<rect x="15" y="627" width="1" height="10"/>
<rect x="23" y="628" width="1" height="9"/>
<rect x="31" y="629" width="1" height="8"/>
<rect x="39" y="631" width="1" height="6"/>
<rect x="47" y="632" width="1" height="5"/>
<rect x="55" y="633" width="1" height="4"/>
<rect x="71" y="636" width="1" height="7"/>
<rect x="79" y="636" width="1" height="8"/>
<rect x="87" y="636" width="1" height="10"/>
<rect x="95" y="636" width="1" height="13"/>
<rect x="103" y="636" width="1" height="15"/>
<rect x="111" y="636" width="1" height="17"/>
<rect x="119" y="636" width="1" height="18"/>
<rect x="127" y="636" width="1" height="18"/>
<rect x="135" y="636" width="1" height="18"/>
<rect x="143" y="636" width="1" height="19"/>
<rect x="151" y="636" width="1" height="17"/>
<rect x="159" y="636" width="1" height="15"/>
<rect x="167" y="636" width="1" height="15"/>
<rect x="175" y="636" width="1" height="12"/>
<rect x="183" y="636" width="1" height="8"/>
<rect x="191" y="636" width="1" height="4"/>
<rect x="207" y="635" width="1" height="2"/>
<rect x="215" y="633" width="1" height="4"/>
<rect x="223" y="634" width="1" height="3"/>
<rect x="231" y="635" width="1" height="2"/>
<rect x="255" y="636" width="1" height="3"/>
<rect x="263" y="636" width="1" height="16"/>
<rect x="271" y="636" width="1" height="26"/>
<rect x="279" y="636" width="1" height="39"/>
<rect x="287" y="636" width="1" height="52"/>
<rect x="295" y="636" width="1" height="60"/>
<rect x="303" y="636" width="1" height="69"/>
<rect x="311" y="636" width="1" height="80"/>
<rect x="319" y="636" width="1" height="88"/>
<rect x="327" y="636" width="1" height="98"/>
<rect x="335" y="636" width="1" height="101"/>
<rect x="343" y="636" width="1" height="102"/>
<rect x="351" y="636" width="1" height="99"/>
<rect x="359" y="636" width="1" height="101"/>
<rect x="367" y="636" width="1" height="104"/>
<rect x="375" y="636" width="1" height="112"/>
<rect x="383" y="636" width="1" height="120"/>
<rect x="391" y="636" width="1" height="125"/>
<rect x="399" y="636" width="1" height="129"/>
<rect x="407" y="636" width="1" height="130"/>
<rect x="415" y="636" width="1" height="131"/>
<rect x="423" y="636" width="1" height="132"/>
<rect x="431" y="636" width="1" height="131"/>
<rect x="439" y="636" width="1" height="130"/>
<rect x="447" y="636" width="1" height="128"/>
<rect x="455" y="636" width="1" height="123"/>
<rect x="463" y="636" width="1" height="130"/>
<rect x="471" y="636" width="1" height="133"/>
<rect x="479" y="636" width="1" height="130"/>
<rect x="487" y="636" width="1" height="127"/>
<rect x="495" y="636" width="1" height="122"/>
<rect x="503" y="636" width="1" height="110"/>
<rect x="511" y="636" width="1" height="97"/>
<rect x="519" y="636" width="1" height="86"/>
<rect x="527" y="636" width="1" height="74"/>
<rect x="535" y="636" width="1" height="66"/>
<rect x="543" y="636" width="1" height="60"/>
<rect x="551" y="636" width="1" height="54"/>
<rect x="559" y="636" width="1" height="49"/>
<rect x="567" y="636" width="1" height="49"/>
<rect x="575" y="636" width="1" height="50"/>
<rect x="583" y="636" width="1" height="52"/>
<rect x="591" y="636" width="1" height="48"/>
<rect x="599" y="636" width="1" height="44"/>
<rect x="607" y="636" width="1" height="41"/>
<rect x="615" y="636" width="1" height="41"/>
<rect x="623" y="636" width="1" height="41"/>
<rect x="631" y="636" width="1" height="41"/>
<rect x="639" y="636" width="1" height="41"/>
<rect x="647" y="636" width="1" height="39"/>
<rect x="655" y="636" width="1" height="36"/>
<rect x="663" y="636" width="1" height="37"/>
<rect x="671" y="636" width="1" height="22"/>
<rect x="679" y="636" width="1" height="13"/>
<rect x="687" y="636" width="1" height="8"/>
<rect x="695" y="636" width="1" height="8"/>
<rect x="703" y="636" width="1" height="22"/>
<rect x="711" y="636" width="1" height="40"/>
<rect x="719" y="636" width="1" height="50"/>
<rect x="727" y="636" width="1" height="57"/>
<rect x="735" y="636" width="1" height="62"/>
<rect x="743" y="636" width="1" height="70"/>
<rect x="751" y="636" width="1" height="73"/>
<rect x="759" y="636" width="1" height="74"/>
<rect x="767" y="636" width="1" height="76"/>
<rect x="775" y="636" width="1" height="76"/>
<rect x="783" y="636" width="1" height="79"/>
<rect x="791" y="636" width="1" height="81"/>
<rect x="799" y="636" width="1" height="74"/>
<rect x="807" y="636" width="1" height="71"/>
<rect x="815" y="636" width="1" height="68"/>
<rect x="823" y="636" width="1" height="65"/>
<rect x="831" y="636" width="1" height="58"/>
<rect x="839" y="636" width="1" height="57"/>
<rect x="847" y="636" width="1" height="54"/>
<rect x="855" y="636" width="1" height="53"/>
<rect x="863" y="636" width="1" height="51"/>
<rect x="871" y="636" width="1" height="50"/>
<rect x="879" y="636" width="1" height="47"/>
<rect x="887" y="636" width="1" height="42"/>
<rect x="895" y="636" width="1" height="37"/>
<rect x="903" y="636" width="1" height="36"/>
<rect x="911" y="636" width="1" height="43"/>
<rect x="919" y="636" width="1" height="48"/>
<rect x="927" y="636" width="1" height="53"/>
<rect x="935" y="636" width="1" height="57"/>
<rect x="943" y="636" width="1" height="62"/>
<rect x="951" y="636" width="1" height="65"/>
<rect x="959" y="636" width="1" height="66"/>
<rect x="967" y="636" width="1" height="66"/>
<rect x="975" y="636" width="1" height="62"/>
<rect x="983" y="636" width="1" height="60"/>
<rect x="991" y="636" width="1" height="60"/>
<rect x="999" y="636" width="1" height="54"/>
<rect x="1007" y="636" width="1" height="49"/>
<rect x="1015" y="636" width="1" height="43"/>
<rect x="1023" y="636" width="1" height="40"/>
<rect x="1031" y="636" width="1" height="39"/>
<rect x="1039" y="636" width="1" height="33"/>
<rect x="1047" y="636" width="1" height="28"/>
<rect x="1055" y="636" width="1" height="19"/>
<rect x="1063" y="636" width="1" height="10"/>
<rect x="1071" y="636" width="1" height="2"/>
<rect x="1079" y="623" width="1" height="14"/>
<rect x="1087" y="606" width="1" height="31"/>
<rect x="1095" y="594" width="1" height="43"/>
<rect x="1103" y="584" width="1" height="53"/>
<rect x="1111" y="576" width="1" height="61"/>
<rect x="1119" y="573" width="1" height="64"/>
<rect x="1127" y="578" width="1" height="59"/>
<rect x="1135" y="581" width="1" height="56"/>
<rect x="1143" y="586" width="1" height="51"/>
<rect x="1151" y="596" width="1" height="41"/>
<rect x="1159" y="603" width="1" height="34"/>
<rect x="1167" y="606" width="1" height="31"/>
<rect x="1175" y="608" width="1" height="29"/>
<rect x="1183" y="606" width="1" height="31"/>
<rect x="1191" y="597" width="1" height="40"/>
<rect x="1199" y="591" width="1" height="46"/>
<rect x="1207" y="591" width="1" height="46"/>
<rect x="1215" y="592" width="1" height="45"/>
<rect x="1223" y="591" width="1" height="46"/>
<rect x="1231" y="592" width="1" height="45"/>
<rect x="1239" y="590" width="1" height="47"/>
<rect x="1247" y="593" width="1" height="44"/>
<rect x="1255" y="590" width="1" height="47"/>
<rect x="1263" y="586" width="1" height="51"/>
<rect x="1271" y="582" width="1" height="55"/>
<rect x="1279" y="577" width="1" height="60"/>
<rect x="1287" y="574" width="1" height="63"/>
<rect x="1295" y="572" width="1" height="65"/>
<rect x="1303" y="573" width="1" height="64"/>
<rect x="1311" y="574" width="1" height="63"/>
<rect x="1319" y="574" width="1" height="63"/>
<rect x="1327" y="582" width="1" height="55"/>
<rect x="1335" y="586" width="1" height="51"/>
<rect x="1343" y="590" width="1" height="47"/>
<rect x="1351" y="593" width="1" height="44"/>
<rect x="1359" y="596" width="1" height="41"/>
<rect x="1367" y="599" width="1" height="38"/>
<rect x="1375" y="606" width="1" height="31"/>
<rect x="1383" y="608" width="1" height="29"/>
<rect x="1391" y="602" width="1" height="35"/>
<rect x="1399" y="601" width="1" height="36"/>
<rect x="1407" y="601" width="1" height="36"/>
<rect x="1415" y="601" width="1" height="36"/>
<rect x="1423" y="600" width="1" height="37"/>
<rect x="1431" y="601" width="1" height="36"/>
<rect x="1439" y="600" width="1" height="37"/>
<rect x="1447" y="600" width="1" height="37"/>
<rect x="1455" y="600" width="1" height="37"/>
</g>
<polyline clip-path="url(#cmacd)" points="0.0,631.0 2.5,631.0 12.4,626.8 22.3,624.4 42.1,624.4 49.5,626.8 64.4,628.6 74.3,632.8 89.1,635.5 104.0,640.9 118.8,646.6 136.1,649.6 153.5,652.6 173.3,652.6 188.1,650.1 203.0,647.1 217.8,643.4 232.7,639.7 245.0,637.2 262.4,637.7 272.3,642.2 287.1,650.8 302.0,664.5 319.3,684.3 334.1,702.8 346.5,715.2 361.4,725.1 376.2,735.0 396.0,744.9 414.9,752.0 429.7,758.9 447.0,764.4 464.4,765.8 496.5,764.4 513.9,756.4 531.2,745.3 548.5,728.0 563.4,711.9 580.7,698.3 598.0,689.6 615.3,683.4 637.6,679.7 659.9,675.5 672.3,673.5 687.1,666.8 699.5,661.1 714.3,660.6 726.7,664.9 739.1,669.3 751.5,679.7 766.3,694.6 781.2,704.5 796.0,708.9 809.9,711.5 824.8,709.5 837.1,706.5 852.0,702.8 866.8,695.4 881.7,690.4 899.0,684.3 911.4,681.3 928.7,681.0 948.5,683.5 960.9,688.7 975.7,694.6 998.0,697.9 1015.3,694.6 1030.2,688.0 1047.5,680.5 1059.9,673.1 1072.3,663.2 1084.6,652.1 1097.0,638.5 1109.4,621.1 1121.8,606.3 1134.1,596.4 1146.5,586.5 1161.4,585.7 1176.2,590.2 1191.1,595.9 1205.9,597.6 1217.7,599.0 1224.7,598.5 1231.8,596.2 1246.0,593.7 1256.6,591.4 1270.7,589.7 1281.3,587.0 1293.7,583.8 1304.3,581.2 1316.7,577.8 1327.3,576.9 1341.4,577.3 1352.0,580.3 1364.4,583.5 1375.0,587.9 1383.8,593.2 1394.4,596.7 1405.1,599.4 1421.0,601.2 1435.1,602.6 1447.5,601.5 1455.4,600.8" fill="none" stroke="#ff0000" stroke-width="1" stroke-dasharray="3,3"/>
<line x1="0" y1="811.5" x2="1650" y2="811.5" stroke="#c0c0c0" stroke-dasharray="3,3" stroke-dashoffset="2"/>
<line x1="0" y1="853.5" x2="1650" y2="853.5" stroke="#c0c0c0" stroke-dasharray="3,3" stroke-dashoffset="2"/>
<line x1="0" y1="902.5" x2="1650" y2="902.5" stroke="#c0c0c0" stroke-dasharray="3,3" stroke-dashoffset="2"/>
<polyline clip-path="url(#crsi)" points="0.0,849.7 7.4,853.6 14.7,853.6 23.0,851.2 30.9,853.6 39.8,855.6 47.1,854.2 55.4,855.6 63.3,865.9 70.7,870.4 79.0,860.1 86.9,865.1 94.9,868.0 103.1,868.0 110.5,868.9 119.3,865.1 127.3,863.9 135.5,865.9 143.5,868.3 151.1,863.0 159.1,850.6 167.4,864.5 175.3,847.7 183.3,847.7 191.5,844.7 199.5,843.8 207.7,851.2 215.7,843.0 223.3,856.5 231.3,852.7 239.2,856.5 247.5,858.6 254.9,859.5 263.7,882.1 271.1,883.0 279.3,889.5 287.3,892.5 295.5,891.0 303.5,894.8 311.4,898.4 319.7,897.8 327.6,901.3 335.9,888.9 343.2,890.1 351.5,881.3 359.5,886.6 368.3,890.1 375.7,895.4 383.0,896.9 391.9,897.8 400.7,897.8 408.1,898.9 416.0,898.9 424.3,900.7 431.6,899.8 439.6,900.7 447.3,902.5 455.8,886.0 463.5,897.5 471.4,893.6 479.7,886.6 487.6,886.6 495.3,882.1 503.6,863.8 510.9,864.7 519.2,861.8 527.1,855.9 535.1,860.3 542.8,862.4 551.3,858.8 559.0,861.5 567.5,868.3 575.8,872.1 583.1,870.3 591.4,863.0 599.3,861.8 607.3,862.7 615.5,865.9 623.5,869.7 631.1,868.9 639.1,871.8 647.4,863.0 655.3,864.1 663.3,868.3 671.5,839.7 679.5,839.7 687.7,847.6 695.7,855.0 703.3,875.6 711.3,881.5 719.5,874.7 727.5,875.6 734.9,873.6 743.7,879.5 751.1,874.7 759.3,873.6 767.3,874.7 775.5,875.6 783.5,879.5 791.4,880.9 799.7,863.0 807.6,867.7 815.9,867.7 823.2,866.8 831.5,860.3 839.5,867.7 847.7,863.8 855.7,867.7 863.0,865.9 871.3,867.7 879.2,862.4 887.2,858.8 895.4,857.1 903.7,864.7 911.6,875.6 919.6,876.5 927.3,877.7 935.2,880.6 943.5,881.5 951.4,881.5 958.8,881.5 967.5,877.1 975.0,873.5 983.4,873.5 991.6,878.6 999.7,862.1 1007.5,862.1 1015.6,857.6 1023.7,862.1 1031.5,866.6 1039.6,855.5 1047.8,853.1 1055.6,841.7 1063.7,840.5 1071.8,838.7 1079.6,824.5 1087.7,817.6 1095.8,822.1 1103.7,820.9 1111.8,820.0 1119.3,825.4 1127.7,844.7 1135.2,840.5 1143.3,845.6 1151.7,857.0 1159.8,855.5 1168.0,848.6 1175.8,848.6 1183.9,839.6 1192.0,830.6 1199.8,832.1 1207.9,839.6 1216.0,843.2 1223.9,839.6 1232.0,840.5 1240.1,837.2 1247.9,842.0 1256.0,836.6 1263.5,830.6 1271.9,829.7 1280.1,826.9 1288.2,827.5 1296.0,826.9 1304.1,830.6 1311.6,830.6 1320.0,827.5 1327.2,851.6 1335.7,843.5 1344.1,845.0 1352.2,845.6 1359.7,845.6 1368.1,845.0 1375.3,856.7 1383.7,845.6 1391.9,839.6 1400.3,838.7 1407.8,838.1 1416.2,838.1 1424.3,837.2 1431.8,838.7 1440.2,836.6 1448.4,836.0 1455.4,836.0" fill="none" stroke="#1e90ff" stroke-width="1"/>
<path d="M1461.5,24 H1471.5 L1466.5,29 Z" fill="#bcbcbc"/>
<rect x="0" y="23" width="1651" height="1" fill="#000"/>
<rect x="0" y="558" width="1651" height="1" fill="#000"/>
<rect x="1650" y="23" width="1" height="536" fill="#000"/>
<rect x="0" y="560" width="1651" height="1" fill="#000"/>
<rect x="0" y="779" width="1651" height="1" fill="#000"/>
<rect x="1650" y="560" width="1" height="220" fill="#000"/>
<rect x="0" y="781" width="1651" height="1" fill="#000"/>
<rect x="0" y="924" width="1651" height="1" fill="#000"/>
<rect x="1650" y="781" width="1" height="144" fill="#000"/>
<rect x="1651" y="27" width="2" height="1" fill="#000"/>
<text x="1656.6" y="31" font-size="9.8" fill="#000" stroke="#000" stroke-width="0.12" textLength="31.7" lengthAdjust="spacingAndGlyphs" letter-spacing="0.6">1.31680</text>
<rect x="1651" y="60" width="2" height="1" fill="#000"/>
<text x="1656.6" y="64" font-size="9.8" fill="#000" stroke="#000" stroke-width="0.12" textLength="31.7" lengthAdjust="spacingAndGlyphs" letter-spacing="0.6">1.31035</text>
<rect x="1651" y="93" width="2" height="1" fill="#000"/>
<text x="1656.6" y="97" font-size="9.8" fill="#000" stroke="#000" stroke-width="0.12" textLength="31.7" lengthAdjust="spacingAndGlyphs" letter-spacing="0.6">1.30390</text>
<rect x="1651" y="126" width="2" height="1" fill="#000"/>
<text x="1656.6" y="130" font-size="9.8" fill="#000" stroke="#000" stroke-width="0.12" textLength="31.7" lengthAdjust="spacingAndGlyphs" letter-spacing="0.6">1.29745</text>
<rect x="1651" y="159" width="2" height="1" fill="#000"/>
<text x="1656.6" y="163" font-size="9.8" fill="#000" stroke="#000" stroke-width="0.12" textLength="31.7" lengthAdjust="spacingAndGlyphs" letter-spacing="0.6">1.29100</text>
<rect x="1651" y="192" width="2" height="1" fill="#000"/>
<text x="1656.6" y="196" font-size="9.8" fill="#000" stroke="#000" stroke-width="0.12" textLength="31.7" lengthAdjust="spacingAndGlyphs" letter-spacing="0.6">1.28455</text>
<rect x="1651" y="225" width="2" height="1" fill="#000"/>
<text x="1656.6" y="229" font-size="9.8" fill="#000" stroke="#000" stroke-width="0.12" textLength="31.7" lengthAdjust="spacingAndGlyphs" letter-spacing="0.6">1.27810</text>
<rect x="1651" y="258" width="2" height="1" fill="#000"/>
<text x="1656.6" y="262" font-size="9.8" fill="#000" stroke="#000" stroke-width="0.12" textLength="31.7" lengthAdjust="spacingAndGlyphs" letter-spacing="0.6">1.27165</text>
<rect x="1651" y="291" width="2" height="1" fill="#000"/>
<text x="1656.6" y="295" font-size="9.8" fill="#000" stroke="#000" stroke-width="0.12" textLength="31.7" lengthAdjust="spacingAndGlyphs" letter-spacing="0.6">1.26520</text>
<rect x="1651" y="324" width="2" height="1" fill="#000"/>
<text x="1656.6" y="328" font-size="9.8" fill="#000" stroke="#000" stroke-width="0.12" textLength="31.7" lengthAdjust="spacingAndGlyphs" letter-spacing="0.6">1.25875</text>
<rect x="1651" y="357" width="2" height="1" fill="#000"/>
<text x="1656.6" y="361" font-size="9.8" fill="#000" stroke="#000" stroke-width="0.12" textLength="31.7" lengthAdjust="spacingAndGlyphs" letter-spacing="0.6">1.25230</text>
<rect x="1651" y="390" width="2" height="1" fill="#000"/>
<text x="1656.6" y="394" font-size="9.8" fill="#000" stroke="#000" stroke-width="0.12" textLength="31.7" lengthAdjust="spacingAndGlyphs" letter-spacing="0.6">1.24585</text>
<rect x="1651" y="423" width="2" height="1" fill="#000"/>
<text x="1656.6" y="427" font-size="9.8" fill="#000" stroke="#000" stroke-width="0.12" textLength="31.7" lengthAdjust="spacingAndGlyphs" letter-spacing="0.6">1.23925</text>
<rect x="1651" y="456" width="2" height="1" fill="#000"/>
<text x="1656.6" y="460" font-size="9.8" fill="#000" stroke="#000" stroke-width="0.12" textLength="31.7" lengthAdjust="spacingAndGlyphs" letter-spacing="0.6">1.23280</text>
<rect x="1651" y="489" width="2" height="1" fill="#000"/>
<text x="1656.6" y="493" font-size="9.8" fill="#000" stroke="#000" stroke-width="0.12" textLength="31.7" lengthAdjust="spacingAndGlyphs" letter-spacing="0.6">1.22635</text>
<rect x="1651" y="522" width="2" height="1" fill="#000"/>
<text x="1656.6" y="526" font-size="9.8" fill="#000" stroke="#000" stroke-width="0.12" textLength="31.7" lengthAdjust="spacingAndGlyphs" letter-spacing="0.6">1.21990</text>
<rect x="1651" y="555" width="2" height="1" fill="#000"/>
<text x="1656.6" y="559" font-size="9.8" fill="#000" stroke="#000" stroke-width="0.12" textLength="31.7" lengthAdjust="spacingAndGlyphs" letter-spacing="0.6">1.21345</text>
<rect x="1652" y="248" width="41" height="11" fill="#ff4500"/>
<text x="1656.6" y="257" font-size="9.8" fill="#fff" stroke="#fff" stroke-width="0.12" textLength="31.7" lengthAdjust="spacingAndGlyphs" letter-spacing="0.6">1.27238</text>
<rect x="1652" y="278" width="41" height="11" fill="#ff0000"/>
<text x="1656.6" y="287" font-size="9.8" fill="#fff" stroke="#fff" stroke-width="0.12" textLength="31.7" lengthAdjust="spacingAndGlyphs" letter-spacing="0.6">1.26652</text>
<rect x="1652" y="311" width="41" height="11" fill="#000000"/>
<text x="1656.6" y="320" font-size="9.8" fill="#fff" stroke="#fff" stroke-width="0.12" textLength="31.7" lengthAdjust="spacingAndGlyphs" letter-spacing="0.6">1.26031</text>
<rect x="1652" y="326" width="41" height="11" fill="#32cd32"/>
<text x="1656.6" y="335" font-size="9.8" fill="#fff" stroke="#fff" stroke-width="0.12" textLength="31.7" lengthAdjust="spacingAndGlyphs" letter-spacing="0.6">1.25714</text>
<rect x="1652" y="356" width="41" height="11" fill="#0000ff"/>
<text x="1656.6" y="365" font-size="9.8" fill="#fff" stroke="#fff" stroke-width="0.12" textLength="31.7" lengthAdjust="spacingAndGlyphs" letter-spacing="0.6">1.25128</text>
<rect x="1652" y="386" width="41" height="11" fill="#0000ff"/>
<text x="1656.6" y="395" font-size="9.8" fill="#fff" stroke="#fff" stroke-width="0.12" textLength="31.7" lengthAdjust="spacingAndGlyphs" letter-spacing="0.6">1.24542</text>
<rect x="1651" y="562" width="2" height="1" fill="#000"/>
<text x="1654.5" y="571" font-size="9.8" fill="#000" stroke="#000" stroke-width="0.12" textLength="37.2" lengthAdjust="spacingAndGlyphs" letter-spacing="0.6">0.006028</text>
<rect x="1651" y="636" width="2" height="1" fill="#000"/>
<text x="1654.5" y="640" font-size="9.8" fill="#000" stroke="#000" stroke-width="0.12" textLength="17.5" lengthAdjust="spacingAndGlyphs" letter-spacing="0.6">0.00</text>
<rect x="1651" y="778" width="2" height="1" fill="#000"/>
<text x="1654" y="776" font-size="9.8" fill="#000" stroke="#000" stroke-width="0.12" textLength="40" lengthAdjust="spacingAndGlyphs" letter-spacing="0.6">-0.011431</text>
<rect x="1651" y="783" width="2" height="1" fill="#000"/>
<text x="1654.6" y="792" font-size="9.8" fill="#000" stroke="#000" stroke-width="0.12" textLength="13.7" lengthAdjust="spacingAndGlyphs" letter-spacing="0.6">100</text>
<rect x="1651" y="811" width="2" height="1" fill="#000"/>
<text x="1654.6" y="815" font-size="9.8" fill="#000" stroke="#000" stroke-width="0.12" textLength="9.2" lengthAdjust="spacingAndGlyphs" letter-spacing="0.6">80</text>
<rect x="1651" y="853" width="2" height="1" fill="#000"/>
<text x="1654.6" y="857" font-size="9.8" fill="#000" stroke="#000" stroke-width="0.12" textLength="9.2" lengthAdjust="spacingAndGlyphs" letter-spacing="0.6">50</text>
<rect x="1651" y="902" width="2" height="1" fill="#000"/>
<text x="1654.6" y="906" font-size="9.8" fill="#000" stroke="#000" stroke-width="0.12" textLength="9.2" lengthAdjust="spacingAndGlyphs" letter-spacing="0.6">15</text>
<rect x="1651" y="924" width="2" height="1" fill="#000"/>
<text x="1654.6" y="921" font-size="9.8" fill="#000" stroke="#000" stroke-width="0.12" textLength="4.6" lengthAdjust="spacingAndGlyphs" letter-spacing="0.6">0</text>
<rect x="55" y="925" width="1" height="3" fill="#000"/>
<text x="54.5" y="937" font-size="9.8" fill="#000" stroke="#000" stroke-width="0.12" textLength="52.78" lengthAdjust="spacingAndGlyphs" letter-spacing="0.6">17 Apr 23:00</text>
<rect x="119" y="925" width="1" height="3" fill="#000"/>
<text x="118.5" y="937" font-size="9.8" fill="#000" stroke="#000" stroke-width="0.12" textLength="52.78" lengthAdjust="spacingAndGlyphs" letter-spacing="0.6">19 Apr 04:00</text>
<rect x="183" y="925" width="1" height="3" fill="#000"/>
<text x="182.5" y="937" font-size="9.8" fill="#000" stroke="#000" stroke-width="0.12" textLength="52.78" lengthAdjust="spacingAndGlyphs" letter-spacing="0.6">20 Apr 12:00</text>
<rect x="247" y="925" width="1" height="3" fill="#000"/>
<text x="246.5" y="937" font-size="9.8" fill="#000" stroke="#000" stroke-width="0.12" textLength="52.78" lengthAdjust="spacingAndGlyphs" letter-spacing="0.6">21 Apr 20:00</text>
<rect x="311" y="925" width="1" height="3" fill="#000"/>
<text x="310.5" y="937" font-size="9.8" fill="#000" stroke="#000" stroke-width="0.12" textLength="52.78" lengthAdjust="spacingAndGlyphs" letter-spacing="0.6">25 Apr 04:00</text>
<rect x="375" y="925" width="1" height="3" fill="#000"/>
<text x="374.5" y="937" font-size="9.8" fill="#000" stroke="#000" stroke-width="0.12" textLength="52.78" lengthAdjust="spacingAndGlyphs" letter-spacing="0.6">26 Apr 12:00</text>
<rect x="439" y="925" width="1" height="3" fill="#000"/>
<text x="438.5" y="937" font-size="9.8" fill="#000" stroke="#000" stroke-width="0.12" textLength="52.78" lengthAdjust="spacingAndGlyphs" letter-spacing="0.6">27 Apr 20:00</text>
<rect x="503" y="925" width="1" height="3" fill="#000"/>
<text x="502.5" y="937" font-size="9.8" fill="#000" stroke="#000" stroke-width="0.12" textLength="52.78" lengthAdjust="spacingAndGlyphs" letter-spacing="0.6">29 Apr 04:00</text>
<rect x="567" y="925" width="1" height="3" fill="#000"/>
<text x="566.5" y="937" font-size="9.8" fill="#000" stroke="#000" stroke-width="0.12" textLength="52.66" lengthAdjust="spacingAndGlyphs" letter-spacing="0.6">2 May 12:00</text>
<rect x="631" y="925" width="1" height="3" fill="#000"/>
<text x="630.5" y="937" font-size="9.8" fill="#000" stroke="#000" stroke-width="0.12" textLength="52.66" lengthAdjust="spacingAndGlyphs" letter-spacing="0.6">3 May 20:00</text>
<rect x="695" y="925" width="1" height="3" fill="#000"/>
<text x="694.5" y="937" font-size="9.8" fill="#000" stroke="#000" stroke-width="0.12" textLength="52.66" lengthAdjust="spacingAndGlyphs" letter-spacing="0.6">5 May 04:00</text>
<rect x="759" y="925" width="1" height="3" fill="#000"/>
<text x="758.5" y="937" font-size="9.8" fill="#000" stroke="#000" stroke-width="0.12" textLength="52.66" lengthAdjust="spacingAndGlyphs" letter-spacing="0.6">6 May 12:00</text>
<rect x="823" y="925" width="1" height="3" fill="#000"/>
<text x="822.5" y="937" font-size="9.8" fill="#000" stroke="#000" stroke-width="0.12" textLength="52.66" lengthAdjust="spacingAndGlyphs" letter-spacing="0.6">9 May 20:00</text>
<rect x="887" y="925" width="1" height="3" fill="#000"/>
<text x="886.5" y="937" font-size="9.8" fill="#000" stroke="#000" stroke-width="0.12" textLength="57.27" lengthAdjust="spacingAndGlyphs" letter-spacing="0.6">11 May 04:00</text>
<rect x="951" y="925" width="1" height="3" fill="#000"/>
<text x="950.5" y="937" font-size="9.8" fill="#000" stroke="#000" stroke-width="0.12" textLength="57.99" lengthAdjust="spacingAndGlyphs" letter-spacing="0.6">12 May 12:00</text>
<rect x="1015" y="925" width="1" height="3" fill="#000"/>
<text x="1014.5" y="937" font-size="9.8" fill="#000" stroke="#000" stroke-width="0.12" textLength="57.99" lengthAdjust="spacingAndGlyphs" letter-spacing="0.6">15 May 23:00</text>
<rect x="1079" y="925" width="1" height="3" fill="#000"/>
<text x="1078.5" y="937" font-size="9.8" fill="#000" stroke="#000" stroke-width="0.12" textLength="57.99" lengthAdjust="spacingAndGlyphs" letter-spacing="0.6">17 May 04:00</text>
<rect x="1143" y="925" width="1" height="3" fill="#000"/>
<text x="1142.5" y="937" font-size="9.8" fill="#000" stroke="#000" stroke-width="0.12" textLength="57.99" lengthAdjust="spacingAndGlyphs" letter-spacing="0.6">18 May 12:00</text>
<rect x="1207" y="925" width="1" height="3" fill="#000"/>
<text x="1206.5" y="937" font-size="9.8" fill="#000" stroke="#000" stroke-width="0.12" textLength="57.99" lengthAdjust="spacingAndGlyphs" letter-spacing="0.6">19 May 20:00</text>
<rect x="1271" y="925" width="1" height="3" fill="#000"/>
<text x="1270.5" y="937" font-size="9.8" fill="#000" stroke="#000" stroke-width="0.12" textLength="57.99" lengthAdjust="spacingAndGlyphs" letter-spacing="0.6">23 May 04:00</text>
<rect x="1335" y="925" width="1" height="3" fill="#000"/>
<text x="1334.5" y="937" font-size="9.8" fill="#000" stroke="#000" stroke-width="0.12" textLength="57.99" lengthAdjust="spacingAndGlyphs" letter-spacing="0.6">24 May 12:00</text>
<rect x="1399" y="925" width="1" height="3" fill="#000"/>
<text x="1398.5" y="937" font-size="9.8" fill="#000" stroke="#000" stroke-width="0.12" textLength="57.99" lengthAdjust="spacingAndGlyphs" letter-spacing="0.6">25 May 20:00</text>
<text x="-9" y="937" font-size="9.8" fill="#000" stroke="#000" stroke-width="0.12" textLength="50.7" lengthAdjust="spacingAndGlyphs" letter-spacing="0.6">15 Apr 2022</text>
<text x="6" y="34.6" font-size="9.8" fill="#000" stroke="#000" stroke-width="0.12" textLength="57" lengthAdjust="spacingAndGlyphs" letter-spacing="0.6">GBPUSD-,H4</text>
<text x="69.5" y="34.6" font-size="9.8" fill="#000" stroke="#000" stroke-width="0.12" textLength="139.5" lengthAdjust="spacingAndGlyphs" letter-spacing="0.6">1.26017 1.26033 1.26017 1.26031</text>
<rect x="0" y="33" width="1" height="1" fill="#000"/>
<text x="-4" y="573" font-size="9.8" fill="#000" stroke="#000" stroke-width="0.12" textLength="147" lengthAdjust="spacingAndGlyphs" letter-spacing="0.6">MACD(12,26,9) 0.003043 0.002924</text>
<text x="-5" y="794" font-size="9.8" fill="#000" stroke="#000" stroke-width="0.12" textLength="67.8" lengthAdjust="spacingAndGlyphs" letter-spacing="0.6">RSI(14) 62.4590</text>
<g shape-rendering="auto">
<line x1="1148" y1="443.1" x2="1452" y2="318.2" stroke="#ff0000" stroke-width="3.2" stroke-linecap="round"/>
<polygon points="1449.5,313.8 1462.2,315.4 1453.2,324.2" fill="#ff0000"/>
<line x1="1364.5" y1="605.8" x2="1460" y2="603.3" stroke="#ff0000" stroke-width="3" stroke-linecap="round"/>
<polygon points="1458.5,598.8 1470,603.3 1458.5,608.8" fill="#ff0000"/>
<line x1="1328.5" y1="845.7" x2="1448" y2="838.6" stroke="#ff0000" stroke-width="3" stroke-linecap="round"/>
<polygon points="1446,834 1458.2,838.4 1446,843.4" fill="#ff0000"/>
</g>
<defs><linearGradient id="gb" x1="0" y1="0" x2="0" y2="1"><stop offset="0" stop-color="#f45454"/><stop offset="1" stop-color="#e03030"/></linearGradient><linearGradient id="gp" x1="0" y1="0" x2="0" y2="1"><stop offset="0" stop-color="#dc2828"/><stop offset="1" stop-color="#b00404"/></linearGradient><linearGradient id="gg" x1="0" y1="0" x2="0" y2="1"><stop offset="0" stop-color="#f2f2f2"/><stop offset="0.45" stop-color="#e6e6e6"/><stop offset="0.5" stop-color="#d8d8d8"/><stop offset="1" stop-color="#d0d0d0"/></linearGradient></defs>
<rect x="0" y="41" width="215" height="61" fill="#fff"/>
<rect x="0" y="43" width="46" height="24" fill="url(#gb)"/>
<rect x="0" y="67" width="103" height="33" fill="url(#gp)"/>
<rect x="0" y="66" width="42" height="1" fill="#8a0000"/>
<rect x="0" y="67" width="42" height="1" fill="#f06060"/>
<path d="M0,43.5 H45.5 V66.5 H102.5 V99.5 H0" fill="none" stroke="#c00000" stroke-width="1"/>
<rect x="161" y="43" width="52" height="24" fill="url(#gb)"/>
<rect x="105" y="67" width="108" height="33" fill="url(#gp)"/>
<rect x="165" y="66" width="44" height="1" fill="#8a0000"/>
<rect x="165" y="67" width="44" height="1" fill="#f06060"/>
<path d="M161.5,43.5 H212.5 V99.5 H105.5 V67.5 H161.5 Z" fill="none" stroke="#c00000" stroke-width="1"/>
<rect x="48.5" y="43.5" width="110" height="21" fill="#fff" stroke="#a8a8a8"/>
<rect x="49.5" y="44.5" width="19" height="19" fill="url(#gg)" stroke="#c8c8c8"/>
<rect x="69" y="44" width="1" height="20" fill="#a8a8a8"/>
<rect x="137" y="44" width="1" height="20" fill="#a8a8a8"/>
<rect x="138.5" y="44.5" width="19" height="19" fill="url(#gg)" stroke="#c8c8c8"/>
<path d="M55.5,52 h6 l-3,3 z" fill="#4060c0"/>
<path d="M144.8,55 h6 l-3,-3 z" fill="#4060c0"/>
<text x="110.8" y="58" font-size="12" fill="#000" textLength="22.7" lengthAdjust="spacingAndGlyphs">1.00</text>
<text x="6.2" y="59" font-size="11.8" fill="#fff" textLength="25.8" lengthAdjust="spacingAndGlyphs">SELL</text>
<text x="174.5" y="59" font-size="11.8" fill="#fff" textLength="23.4" lengthAdjust="spacingAndGlyphs">BUY</text>
<text x="14.4" y="94.6" font-size="12" fill="#fff" textLength="23.2" lengthAdjust="spacingAndGlyphs" font-weight="bold">1.26</text>
<text x="42.2" y="94.6" font-size="35.5" fill="#fff" textLength="33" lengthAdjust="spacingAndGlyphs">03</text>
<text x="81.4" y="79" font-size="12" fill="#fff" textLength="6.6" lengthAdjust="spacingAndGlyphs" font-weight="bold">1</text>
<text x="124.4" y="94.6" font-size="12" fill="#fff" textLength="23" lengthAdjust="spacingAndGlyphs" font-weight="bold">1.26</text>
<text x="153.5" y="94.6" font-size="35.5" fill="#fff" textLength="33.9" lengthAdjust="spacingAndGlyphs">06</text>
<text x="192.2" y="79" font-size="12" fill="#fff" textLength="6.6" lengthAdjust="spacingAndGlyphs" font-weight="bold">9</text>
</svg>
</body></html>
